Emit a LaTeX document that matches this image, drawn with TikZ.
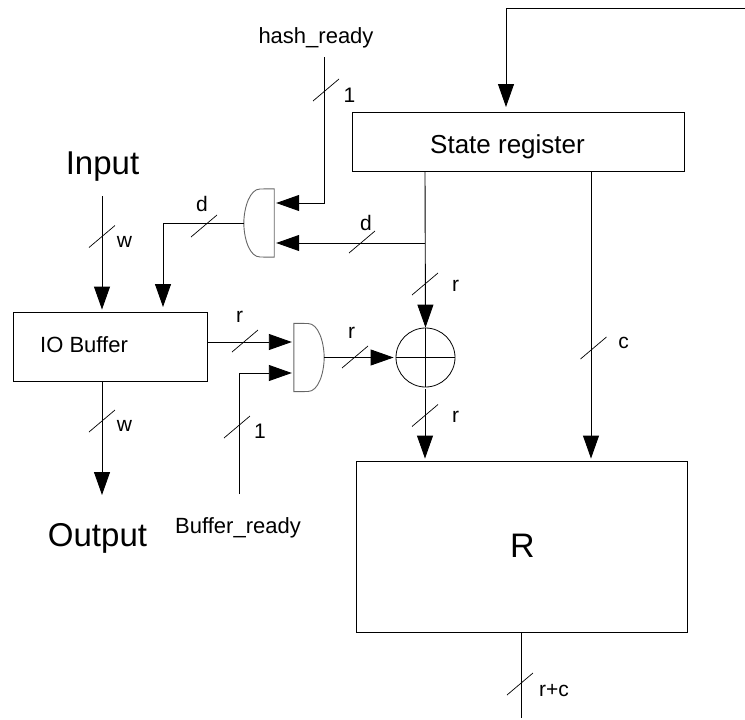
\documentclass[tikz,border=0pt]{standalone}
\usepackage{fontspec}
\setmainfont{Liberation Sans}
\usetikzlibrary{arrows.meta}
\usetikzlibrary{positioning}
\tikzstyle{block} = [rectangle, draw=black, line width=0.9pt, inner sep=0pt]
\tikzstyle{gate} = [rectangle, inner sep=0pt, minimum width=30pt, minimum height=68pt]
\tikzstyle{xorop} = [circle, draw=black, line width=0.8pt, inner sep=0pt, minimum size=59pt]
\tikzstyle{wire} = [line width=0.9pt, shorten >=2pt, -{Triangle[length=23pt,width=16pt]}]
\tikzstyle{line} = [line width=0.9pt]
\tikzstyle{tick} = [line width=0.7pt]
\tikzstyle{lbl} = [inner sep=0pt, font=\fontsize{21}{21}\selectfont]
\tikzstyle{midlbl} = [inner sep=0pt, font=\fontsize{22}{22}\selectfont]
\tikzstyle{biglbl} = [inner sep=0pt, font=\fontsize{33}{33}\selectfont]
\newcommand{\busmark}[2]{\draw [tick] ({#1-13},{#2+11}) -- ({#1+13},{#2-11});}

\begin{document}
\begin{tikzpicture}[x=1pt,y=-1pt]
\useasboundingbox (0,0) rectangle (745,720);

% blocks
\node (state) [block, minimum width=332pt, minimum height=59pt] at (518,141.5) {};
\node (iobuf) [block, minimum width=194pt, minimum height=69pt] at (110,346.5) {};
\node (rbox) [block, minimum width=331pt, minimum height=171pt] at (521.5,546.5) {};
\node (xorc) [xorop] at (425.5,357.5) {};
\node (hashgate) [gate] at (259,223) {};
\node (bufgate) [gate] at (309,357.5) {};

% block texts
\node (statetxt) [lbl, font=\fontsize{26}{26}\selectfont] at (507.5,147) {State register};
\node (iotxt) [midlbl] at (84,345) {IO Buffer};
\node (rtxt) [lbl, font=\fontsize{34}{34}\selectfont] at (522.5,545.5) {R};
\node (input) [biglbl] at (102.5,167) {Input};
\node (output) [biglbl] at (97.5,538) {Output};
\node (hashtxt) [midlbl] at (316,38) {hash\_ready};
\node (buftxt) [midlbl] at (238,527.5) {Buffer\_ready};

% free ends
\coordinate (feedin) at (745,8);
\coordinate (hashin) at (324,57);
\coordinate (bufin) at (239,494);
\coordinate (inin) at (102,196);
\coordinate (outout) at (102,497);
\coordinate (rout) at (521,718);
\coordinate (split) at (425,243);

% gates
\draw [line, draw=black!60] (hashgate.north east) -- (260,189) .. controls (250,189) and (244,207) .. (hashgate.west)
  .. controls (244,240) and (250,257) .. (260,257) -- (hashgate.south east) -- cycle;
\draw [line, draw=black!60] (bufgate.north west) -- (308,323.5) .. controls (318,323.5) and (324,341) .. (bufgate.east)
  .. controls (324,374) and (318,391.5) .. (308,391.5) -- (bufgate.south west) -- cycle;
\draw [tick] (xorc.west) -- (xorc.east);
\draw [tick] (xorc.north) -- (xorc.south);

% connectors
\draw [wire, shorten >=5pt] (feedin) -| (506,112);
\draw [wire] (hashin) |- (hashgate.east |- 0,203);
\draw [wire] (split) -- (hashgate.east |- split);
\draw [wire, shorten >=5pt] (hashgate.west) -| (163,312);
\draw [wire] (inin) -- (inin |- iobuf.north);
\draw [wire] (iobuf.south -| outout) -- (outout);
\draw [wire] (iobuf.east |- 0,342) -- (bufgate.west |- 0,342);
\draw [wire] (bufin) |- (bufgate.west |- 0,373);
\draw [wire] (bufgate.east) -- (xorc.west);
\draw [wire, shorten >=0pt] (state.south -| split) -- (xorc.north);
\draw [wire] (425,389) -- (rbox.north -| split);
\draw [wire] (state.south -| 591,0) -- (rbox.north -| 591,0);
\draw [line] (rbox.south -| rout) -- (rout);

% bus marks
\busmark{102}{236.5}
\busmark{102}{421}
\busmark{204}{226}
\busmark{362}{242}
\busmark{326}{90}
\busmark{245}{341}
\busmark{237}{427}
\busmark{355}{357}
\busmark{425}{284}
\busmark{425}{415.5}
\busmark{593.5}{348}
\busmark{520}{684}

% bus labels
\node (wtop) [lbl] at (124.5,242) {w};
\node (wbot) [lbl] at (124.5,426) {w};
\node (dleft) [lbl] at (202,204) {d};
\node (dmid) [lbl] at (366,222.5) {d};
\node (onetop) [lbl] at (349.5,95) {1};
\node (onebot) [lbl] at (260,431.5) {1};
\node (rin) [lbl] at (239.5,317) {r};
\node (rgate) [lbl] at (351.5,332.5) {r};
\node (rtop) [lbl] at (455.5,285.5) {r};
\node (rlow) [lbl] at (455.5,416.5) {r};
\node (ctxt) [lbl] at (623.5,342.5) {c};
\node (rctxt) [lbl] at (554,690.5) {r+c};
\end{tikzpicture}
\end{document}
